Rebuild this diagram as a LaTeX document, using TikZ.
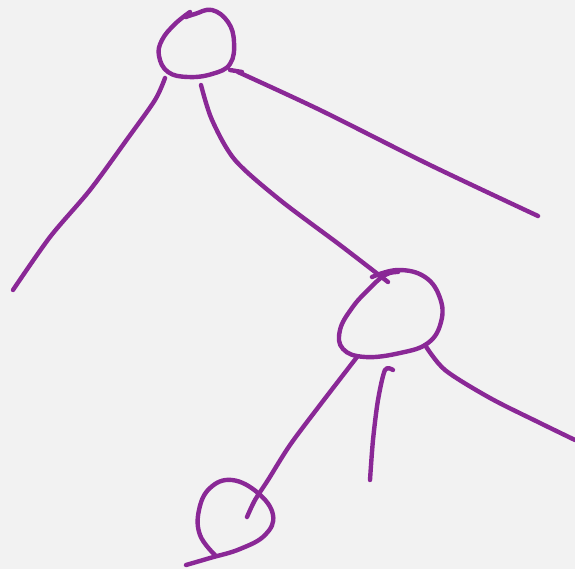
\documentclass[tikz,border=0pt]{standalone}
\begin{document}
\begin{tikzpicture}[x=1pt,y=-1pt,
  ink/.style={draw=inkc,line width=4.4pt,line cap=round,line join=round}]
\definecolor{inkc}{RGB}{138,40,150}
\definecolor{bg}{RGB}{242,242,242}
\fill[bg] (0,0) rectangle (575,569);
\useasboundingbox (0,0) rectangle (575,569);
% top circle
\draw[ink] plot[smooth,tension=0.7] coordinates {(186,17) (195,14) (212,10) (228,22) (234,42) (230,64) (212,74) (188,77) (168,72) (159,56) (162,40) (175,24) (190,12)};
\draw[ink] (230,70) -- (242,72);
% left branch
\draw[ink] plot[smooth] coordinates {(165,78) (155,100) (128,138) (90,190) (50,237) (13,290)};
% middle branch
\draw[ink] plot[smooth] coordinates {(201,85) (212,120) (235,160) (280,200) (340,245) (388,282)};
% right branch
\draw[ink] plot[smooth] coordinates {(238,72) (320,110) (430,165) (538,216)};
% middle circle
\draw[ink] plot[smooth,tension=0.7] coordinates {(372,277) (398,270) (425,277) (440,298) (441,322) (428,343) (400,353) (365,357) (343,349) (340,330) (352,308) (368,290) (385,275) (398,272)};
% lower left branch
\draw[ink] plot[smooth] coordinates {(357,357) (320,405) (290,445) (268,480) (255,500) (247,517)};
% lower middle branch
\draw[ink] plot[smooth] coordinates {(370,480) (373,440) (378,400) (385,370) (393,370)};
% lower right branch
\draw[ink] plot[smooth] coordinates {(425,345) (445,370) (490,398) (540,423) (575,440)};
% bottom circle
\draw[ink] plot[smooth,tension=0.7] coordinates {(215,555) (200,535) (199,510) (210,488) (232,480) (258,493) (273,515) (265,535) (240,549) (210,558) (186,565)};
\end{tikzpicture}
\end{document}
